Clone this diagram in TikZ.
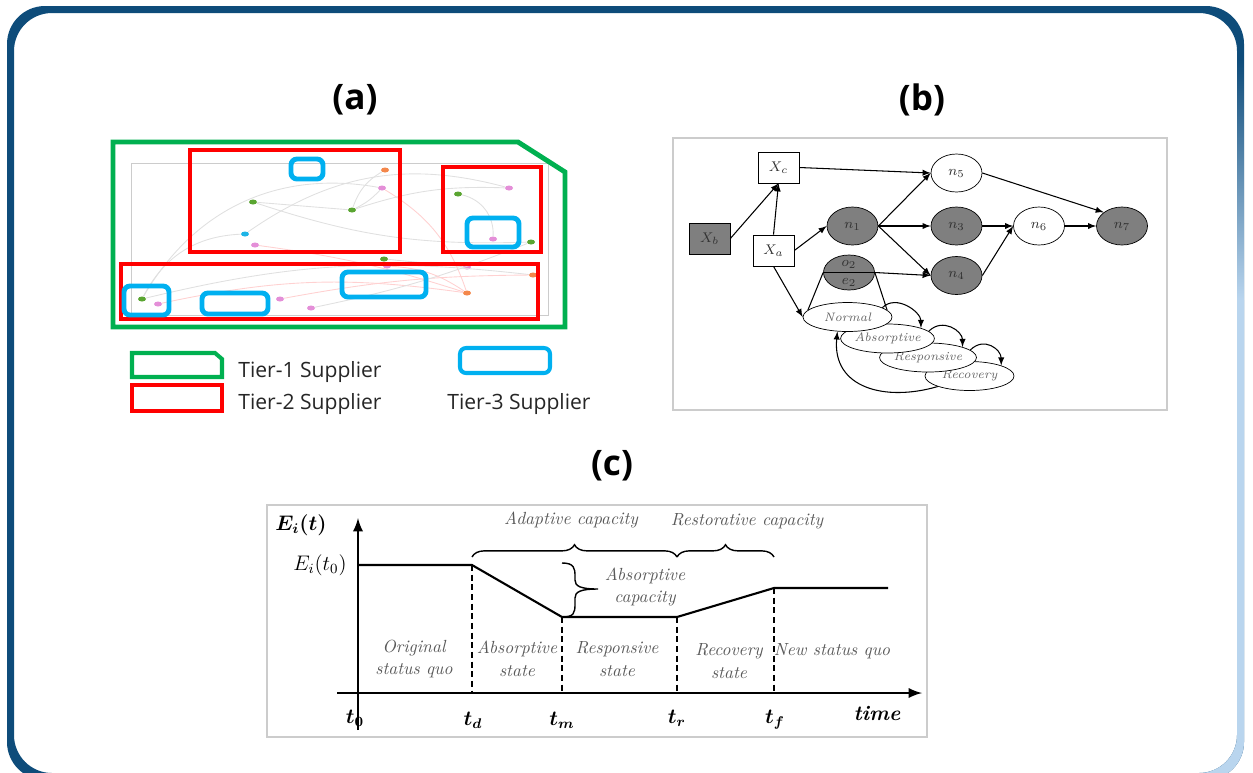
\documentclass[tikz,border=0pt]{standalone}
\usepackage{amsmath}
\usepackage{fontspec}
\usepackage{tikz}
\usetikzlibrary{shapes.geometric,decorations.pathreplacing}
\newfontfamily\osans{Open Sans}

\definecolor{frameblue}{HTML}{0E4C7A}
\definecolor{framelight}{HTML}{B9D5EE}
\definecolor{tgreen}{HTML}{00B050}
\definecolor{tred}{HTML}{FF0000}
\definecolor{tcyan}{HTML}{00B0F0}
\definecolor{dorange}{HTML}{F4874B}
\definecolor{dpink}{HTML}{E48FD8}
\definecolor{dgreen}{HTML}{5AA531}
\definecolor{dcyan}{HTML}{1EB4E6}
\definecolor{nodegray}{HTML}{7F7F7F}

\begin{document}
\begin{tikzpicture}[x=0.02cm, y=-0.02cm,
  paneltitle/.style={font=\osans\fontsize{20}{24}\selectfont\bfseries, inner sep=0pt},
  legendtext/.style={font=\osans\fontsize{12}{14}\selectfont, text=black!85, inner sep=0pt, anchor=west},
  tierone/.style={draw=tgreen, line width=2.8pt},
  tiertwo/.style={draw=tred, line width=2.8pt},
  tierthree/.style={draw=tcyan, line width=2.8pt, rounded corners=0.12cm},
  netdot/.style={ellipse, minimum width=0.16cm, minimum height=0.1cm, inner sep=0pt},
  faint/.style={draw=black!12, line width=0.5pt},
  faintred/.style={draw=red!18, line width=0.5pt},
  panelbox/.style={draw=black!20, line width=0.8pt},
  darkbox/.style={draw, fill=nodegray, minimum width=0.82cm, minimum height=0.62cm, inner sep=0pt, font=\fontsize{8}{9}\selectfont, text=black!80},
  whitebox/.style={darkbox, fill=white},
  darkell/.style={ellipse, draw, fill=nodegray, minimum width=1.02cm, minimum height=0.76cm, inner sep=0pt, font=\fontsize{8}{9}\selectfont, text=black!80},
  whiteell/.style={darkell, fill=white},
  phase/.style={ellipse, draw, fill=white, minimum width=1.78cm, minimum height=0.58cm, inner sep=0pt, font=\itshape\fontsize{7}{8}\selectfont, text=black!60},
  barrow/.style={-latex, line width=0.6pt},
  axisline/.style={-latex, line width=1.6pt},
  levelline/.style={line width=1.2pt},
  dropline/.style={line width=1.4pt, dash pattern=on 3.5pt off 2pt},
  capbrace/.style={decorate, decoration={brace, amplitude=7pt}, line width=0.8pt},
  captext/.style={font=\itshape\fontsize{10}{12}\selectfont, text=black!65, inner sep=0pt, align=center},
  ticklabel/.style={font=\fontsize{12}{14}\selectfont, inner sep=0pt}]

\useasboundingbox (0,0) rectangle (1253,772);

\begin{scope}
\clip[rounded corners=0.76cm] (7,6) -- (1244,6) -- (1244,780) -- (7,780) -- cycle
  (14,13) -- (14,773) -- (1237,773) -- (1237,13) -- cycle;
\fill[frameblue] (0,0) rectangle (1253,780);
\shade[top color=frameblue, bottom color=framelight] (1120,60) rectangle (1253,300);
\fill[framelight] (1120,300) rectangle (1253,780);
\end{scope}

\node[paneltitle] (ta) at (355,100) {(a)};
\node[paneltitle] (tb) at (922,100) {(b)};
\node[paneltitle] (tc) at (612,466) {(c)};

\draw[black!20, line width=0.5pt] (131,163) rectangle (548,315);

\node[netdot, fill=dorange] (o1) at (385,170) {};
\node[netdot, fill=dpink] (p1) at (382,188) {};
\node[netdot, fill=dgreen] (g1) at (253,202) {};
\node[netdot, fill=dgreen] (g2) at (352,210) {};
\node[netdot, fill=dcyan] (c1) at (245,234) {};
\node[netdot, fill=dpink] (p2) at (255,245) {};
\node[netdot, fill=dgreen] (g3) at (458,194) {};
\node[netdot, fill=dpink] (p3) at (509,188) {};
\node[netdot, fill=dpink] (p4) at (493,239) {};
\node[netdot, fill=dgreen] (g4) at (531,242) {};
\node[netdot, fill=dgreen] (g5) at (384,259) {};
\node[netdot, fill=dpink] (p5) at (387,266) {};
\node[netdot, fill=dpink] (p6) at (467,267) {};
\node[netdot, fill=dorange] (o2) at (533,275) {};
\node[netdot, fill=dorange] (o3) at (467,293) {};
\node[netdot, fill=dgreen] (g6) at (142,299) {};
\node[netdot, fill=dpink] (p7) at (158,304) {};
\node[netdot, fill=dpink] (p8) at (280,299) {};
\node[netdot, fill=dpink] (p9) at (311,308) {};

\draw[faint] (o1) to[bend right=20] (g2);
\draw[faint] (p1) to[bend left=10] (g2);
\draw[faint] (g1) -- (g2);
\draw[faint] (c1) to[bend left=25] (p3);
\draw[faint] (g6) to[bend left=35] (p1);
\draw[faint] (g6) to[bend left=10] (o2);
\draw[faint] (g3) to[bend left=40] (p4);
\draw[faintred] (p2) to[bend left=5] (o3);
\draw[faintred] (p1) to[bend left=20] (o3);
\draw[faint] (g6) to[bend left=30] (c1);
\draw[faintred] (p7) to[bend left=10] (o3);
\draw[faintred] (p8) to[bend left=5] (o2);
\draw[faint] (p9) to[bend right=5] (g4);
\draw[faint] (g1) to[bend right=10] (g4);
\draw[faint] (g2) to[bend left=10] (p3);
\draw[faint] (g5) -- (p6);
\draw[faintred] (p5) to[bend left=15] (o3);

\draw[tiertwo] (190,150) rectangle (400,252);
\draw[tiertwo] (443,167) rectangle (541,252);
\draw[tiertwo] (121,264) rectangle (538,319);
\draw[tierthree] (291,159) rectangle (323,179);
\draw[tierthree] (467,218) rectangle (519,247);
\draw[tierthree] (342,272) rectangle (426,297);
\draw[tierthree] (124,286) rectangle (169,315);
\draw[tierthree] (202,293) rectangle (268,314);
\draw[tierone] (113,142) -- (518,142) -- (565,172) -- (565,327) -- (113,327) -- cycle;

\draw[tierone, line width=2.3pt] (132,353) -- (215,353) -- (222,359) -- (222,377) -- (132,377) -- cycle;
\draw[tiertwo, line width=2.3pt] (132,385) rectangle (222,411);
\draw[tierthree, line width=2.3pt] (460,348) rectangle (550,373);
\node[legendtext] (l1) at (238,372) {Tier-1 Supplier};
\node[legendtext] (l2) at (238,404) {Tier-2 Supplier};
\node[legendtext] (l3) at (447,404) {Tier-3 Supplier};

\draw[panelbox] (673,138) rectangle (1167,410);
\node[darkbox] (xb) at (709.5,238.5) {$X_b$};
\node[whitebox] (xc) at (778.5,167.5) {$X_c$};
\node[whitebox] (xa) at (773.5,250.5) {$X_a$};
\node[whiteell] (n5) at (956.5,173) {$n_5$};
\node[darkell] (n1) at (852.5,226) {$n_1$};
\node[darkell] (n3) at (956.5,226) {$n_3$};
\node[whiteell] (n6) at (1039,226) {$n_6$};
\node[darkell] (n7) at (1122,226) {$n_7$};
\node[darkell] (n4) at (956.5,275.5) {$n_4$};
\node[darkell, minimum height=0.7cm] (oe) at (849,272.5) {};
\draw (oe.west) -- (oe.east);
\node[font=\fontsize{8}{9}\selectfont, text=black!80, inner sep=0pt] (o2lab) at (849,264) {$o_2$};
\node[font=\fontsize{8}{9}\selectfont, text=black!80, inner sep=0pt] (e2lab) at (849,282) {$e_2$};

\node[phase] (recovery) at (969.5,376) {Recovery};
\node[phase] (responsive) at (928,357.5) {Responsive};
\node[phase] (absorptive) at (887.5,338.5) {Absorptive};
\node[phase] (normal) at (847.5,317) {Normal};

\draw[barrow] (xb.east) -- (xc.south);
\draw[barrow] (xa.north) -- (xc.south);
\draw[barrow] (xa.east) -- (n1.west);
\draw[barrow] (xa.south) -- (normal.west);
\draw[barrow] (xc.east) -- (n5.west);
\draw[barrow] (n1.east) -- (n5.west);
\draw[barrow] (n1.east) -- (n3.west);
\draw[barrow] (n1.east) -- (n4.west);
\draw[barrow] (oe.east) -- (n4.west);
\draw[barrow] (n3.east) -- (n6.west);
\draw[barrow] (n4.east) -- (n6.west);
\draw[barrow] (n5.east) -- (n7.north west);
\draw[barrow] (n6.east) -- (n7.west);
\draw[line width=0.6pt] (oe.west) -- (normal.170);
\draw[line width=0.6pt] (oe.east) -- (normal.10);
\draw[barrow] (normal.15) .. controls +(14,-14) and +(0,-16) .. (absorptive.north east);
\draw[barrow] (absorptive.10) .. controls +(14,-14) and +(0,-16) .. (responsive.north east);
\draw[barrow] (responsive.10) .. controls +(14,-14) and +(0,-16) .. (recovery.north east);
\draw[barrow] (recovery.south west) .. controls (885,402) and (832,388) .. (normal.235);

\draw[panelbox] (267,505) rectangle (927,737);
\draw[axisline] (358,730) -- (358,518);
\draw[axisline] (337,693) -- (922,693);
\coordinate (s0) at (358,565);
\coordinate (sd) at (472,565);
\coordinate (sm) at (562,617);
\coordinate (sr) at (677,617);
\coordinate (sf) at (774,588);
\coordinate (se) at (888,588);
\draw[levelline] (s0) -- (sd) -- (sm) -- (sr) -- (sf) -- (se);
\draw[dropline] (sd) -- (472,693);
\draw[dropline] (sm) -- (562,693);
\draw[dropline] (sr) -- (677,693);
\draw[dropline] (sf) -- (774,693);
\draw[capbrace] (472,557) -- (677,557);
\draw[capbrace] (677,557) -- (774,557);
\draw[line width=0.8pt] (562,563) .. controls (574,563) and (575,568) .. (575,576) -- (575,580)
  .. controls (575,586) and (580,589) .. (598,589) .. controls (580,589) and (575,592) .. (575,598)
  -- (575,604) .. controls (575,613) and (574,617) .. (562,617);

\node[font=\fontsize{12}{14}\selectfont, inner sep=0pt] (ey) at (301,525) {$\boldsymbol{E_i(t)}$};
\node[font=\fontsize{12}{14}\selectfont, inner sep=0pt] (e0) at (320,565) {$E_i(t_0)$};
\node[captext] (adapt) at (571,520) {Adaptive capacity};
\node[captext] (resto) at (747,521) {Restorative capacity};
\node[captext] (absorb) at (645,587) {Absorptive\\[1pt]capacity};
\node[captext] (orig) at (414,659) {Original\\[1pt]status quo};
\node[captext] (absst) at (517,659) {Absorptive\\[1pt]state};
\node[captext] (respst) at (617,659) {Responsive\\[1pt]state};
\node[captext] (recst) at (729,661) {Recovery\\[1pt]state};
\node[captext] (newst) at (832,651) {New status quo};
\node[ticklabel] (t0) at (355,718) {$\boldsymbol{t_0}$};
\node[ticklabel] (td) at (473,720) {$\boldsymbol{t_d}$};
\node[ticklabel] (tm) at (562,720) {$\boldsymbol{t_m}$};
\node[ticklabel] (tr) at (677,718) {$\boldsymbol{t_r}$};
\node[ticklabel] (tf) at (775,720) {$\boldsymbol{t_f}$};
\node[ticklabel] (time) at (877,713) {\textbf{\textit{time}}};
\end{tikzpicture}
\end{document}
